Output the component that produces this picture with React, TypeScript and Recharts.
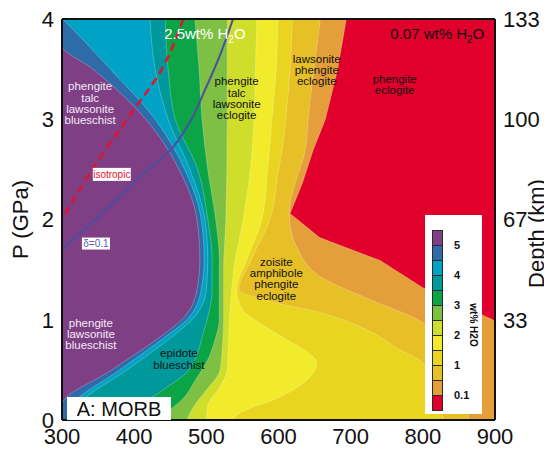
import React from "react";
import {
  ComposedChart,
  Area,
  Line,
  XAxis,
  YAxis,
  CartesianGrid,
  ReferenceDot,
  Legend,
} from "recharts";

type Pt = [number, number]; // [P in GPa, T in °C]

// wt% H2O contour edges, read as T at a given P; the wetter band lies left of each edge
const purpleEdge: Pt[] = [[4, 300], [3.74, 300], [3.5, 343], [3, 416], [2.5, 462], [2, 487], [1.6, 491], [1.3, 487], [1, 466], [0.85, 440], [0.5, 369], [0.15, 300], [0, 300]];
const blueEdge: Pt[] = [[4, 301], [3.74, 336], [3.5, 367], [3, 429], [2.5, 470], [2, 493], [1.6, 497], [1.3, 493], [1, 473], [0.85, 447], [0.5, 380], [0.15, 314], [0, 307]];
const cyanEdge: Pt[] = [[4, 422], [3.5, 429], [3, 447], [2.5, 477], [2, 498], [1.6, 502], [1.3, 500], [1, 480], [0.85, 456], [0.5, 390], [0.15, 322], [0, 312]];
const tealEdge: Pt[] = [[4, 443], [3.5, 447], [3, 457], [2.5, 488], [2, 502], [1.6, 508], [1.3, 508], [1, 501], [0.85, 495], [0.6, 484], [0.5, 476], [0.3, 440], [0.15, 410], [0, 390]];
const greenEdge: Pt[] = [[4, 484], [3.5, 490], [3, 494], [2.5, 502], [2, 513], [1.6, 518], [1.3, 518], [1, 518], [0.8, 512], [0.6, 502], [0.4, 485], [0.2, 466], [0.08, 446], [0, 432]];
const limeEdge: Pt[] = [[4, 529], [3, 529], [2, 527], [1.5, 524], [1, 524], [0.7, 522], [0.5, 519], [0.28, 498], [0.15, 484], [0, 473]];
const yellowGreenEdge: Pt[] = [[4, 570], [3.5, 568], [3, 566], [2.5, 561], [2, 551], [1.5, 538], [1.3, 535], [1, 532], [0.5, 529], [0.3, 516], [0.15, 502], [0, 500]];
const yellowEdge: Pt[] = [[4, 599], [3.5, 597], [3, 591], [2.5, 585], [2, 577], [1.6, 556], [1.3, 542], [1.1, 550], [1, 567], [0.8, 612], [0.63, 648], [0.57, 653], [0.43, 644], [0.23, 602], [0.07, 547], [0, 536]];
const paleGoldEdge: Pt[] = [[4, 619], [3.5, 616], [3, 610], [2.69, 605], [2.5, 600], [2, 588], [1.6, 562], [1.3, 545], [1.18, 590], [1.07, 658], [0.9, 722], [0.7, 768], [0.57, 800], [0.3, 818], [0, 828]];
const goldEdge: Pt[] = [[4, 658], [3.5, 649], [3, 641], [2.69, 637], [2.36, 623], [2.2, 617], [2.06, 615], [1.9, 617], [1.7, 627], [1.43, 658], [1.2, 727], [1, 793], [0.97, 800], [0.7, 831], [0.5, 845], [0, 864]];
const orangeEdge: Pt[] = [[4, 694], [3.5, 682], [3, 665], [2.69, 648], [2.36, 633], [2.2, 624], [2.06, 616], [1.82, 657], [1.59, 741], [1.32, 800], [1, 897], [0.97, 900], [0, 900]];

// geotherm-like reference curves
const isotropicLine: Pt[] = [[2, 300], [2.51, 343], [3.04, 394], [3.47, 436], [4, 468]];
const deltaLine: Pt[] = [[1.7, 300], [1.98, 343], [2.23, 380], [2.47, 415], [2.69, 450], [2.97, 477], [3.29, 498], [3.64, 519], [4, 537]];

const tempTicks = [300, 400, 500, 600, 700, 800, 900];
const innerTempTicks = [400, 500, 600, 700, 800];
const pressureTicks = [0, 1, 2, 3, 4];
const depthTickPressures = [1, 2, 3, 4];
const sideTicks = [0.56, 1.12, 1.69, 2.26, 2.83, 3.42];
const kmPerGPa = 100 / 3;

const legendColors = ["#7E3F84", "#2E6CA9", "#00A3C5", "#00999B", "#0BA547", "#7DC043", "#CFDD2B", "#F2EB2C", "#E9D420", "#E7C028", "#E49F3A", "#E0002B"];
const legendValues = ["5", "4", "3", "2", "1", "0.1"];
const legendSlots = [1, 3, 5, 7, 9, 11];

const FONT = "'Liberation Sans', Arial, sans-serif";

// drawn back to front: each band covers from 300 °C up to its edge
const bands: { key: string; edge: Pt[]; color: string; curve: "monotone" | "linear" }[] = [
  { key: "orange", edge: orangeEdge, color: legendColors[10], curve: "linear" },
  { key: "gold", edge: goldEdge, color: legendColors[9], curve: "monotone" },
  { key: "paleGold", edge: paleGoldEdge, color: legendColors[8], curve: "monotone" },
  { key: "yellow", edge: yellowEdge, color: legendColors[7], curve: "monotone" },
  { key: "yellowGreen", edge: yellowGreenEdge, color: legendColors[6], curve: "monotone" },
  { key: "lime", edge: limeEdge, color: legendColors[5], curve: "monotone" },
  { key: "green", edge: greenEdge, color: legendColors[4], curve: "monotone" },
  { key: "teal", edge: tealEdge, color: legendColors[3], curve: "monotone" },
  { key: "cyan", edge: cyanEdge, color: legendColors[2], curve: "monotone" },
  { key: "blue", edge: blueEdge, color: legendColors[1], curve: "monotone" },
  { key: "purple", edge: purpleEdge, color: legendColors[0], curve: "monotone" },
];

const rowMap = new Map<number, Record<string, number>>();
[...bands.map((b) => ({ key: b.key, pts: b.edge })), { key: "iso", pts: isotropicLine }, { key: "delta", pts: deltaLine }].forEach(
  ({ key, pts }) =>
    pts.forEach(([p, t]) => {
      const row = rowMap.get(p) ?? { p };
      row[key] = t;
      rowMap.set(p, row);
    })
);
const data = [...rowMap.values()].sort((a, b) => b.p - a.p);

const phaseLabels = [
  { lines: ["phengite", "talc", "lawsonite", "blueschist"], t: 339, p: 3.16, color: "#F3EAF6" },
  { lines: ["phengite", "talc", "lawsonite", "eclogite"], t: 542, p: 3.21, color: "#111" },
  { lines: ["lawsonite", "phengite", "eclogite"], t: 653, p: 3.49, color: "#111" },
  { lines: ["phengite", "eclogite"], t: 761, p: 3.35, color: "#111" },
  { lines: ["zoisite", "amphibole", "phengite", "eclogite"], t: 597, p: 1.41, color: "#111" },
  { lines: ["epidote", "blueschist"], t: 462, p: 0.61, color: "#111" },
  { lines: ["phengite", "lawsonite", "blueschist"], t: 340, p: 0.86, color: "#F3EAF6" },
];

const textBlock = (lines: string[], color: string) => (props: any) => {
  const { cx, cy } = props;
  const lh = 11.3;
  const top = cy - ((lines.length - 1) * lh) / 2;
  return (
    <text textAnchor="middle" fontSize={11.5} fill={color} fontFamily={FONT}>
      {lines.map((l, i) => (
        <tspan key={i} x={cx} y={top + i * lh} dy="0.35em">
          {l}
        </tspan>
      ))}
    </text>
  );
};

const waterNote = (lead: string, color: string) => (props: any) => (
  <text x={props.cx} y={props.cy} dy="0.35em" textAnchor="middle" fontSize={15} fill={color} fontFamily={FONT}>
    <tspan>{lead}H</tspan>
    <tspan fontSize={10} dy={4}>2</tspan>
    <tspan dy={-4}>O</tspan>
  </text>
);

const boxedText = (text: string, color: string, w: number, h: number, size: number) => (props: any) => {
  const { cx, cy } = props;
  return (
    <g>
      <rect x={cx - w / 2} y={cy - h / 2} width={w} height={h} fill="#fff" />
      <text x={cx} y={cy} dy="0.36em" textAnchor="middle" fontSize={size} fill={color} fontFamily={FONT}>
        {text}
      </text>
    </g>
  );
};

const AxisTitle = ({ viewBox, text, side }: any) => {
  const { x, y, width, height } = viewBox;
  const cx = side === "left" ? x + 12 : x + width - 16;
  const cy = y + height / 2 + (side === "left" ? 0 : 14);
  return (
    <text x={cx} y={cy} transform={`rotate(-90 ${cx} ${cy})`} textAnchor="middle" dominantBaseline="central" fontSize={22} fill="#111" fontFamily={FONT}>
      {text}
    </text>
  );
};

const H2OKey = () => (
  <div style={{ position: "relative", width: 57, height: 199, background: "#fff", fontFamily: FONT }}>
    {legendColors.map((c, i) => (
      <div
        key={c}
        style={{ position: "absolute", left: 7, top: 15 + i * 15, width: 11, height: 16, background: c, border: "1px solid #2a2a2a", boxSizing: "border-box" }}
      />
    ))}
    {legendValues.map((v, i) => (
      <span key={v} style={{ position: "absolute", left: 29, top: 15 + legendSlots[i] * 15 - 7, fontSize: 11, fontWeight: "bold", lineHeight: "14px", color: "#111" }}>
        {v}
      </span>
    ))}
    <span
      style={{ position: "absolute", left: 48, top: 110, transform: "translate(-50%, -50%) rotate(90deg)", whiteSpace: "nowrap", fontSize: 10, fontWeight: "bold", color: "#111" }}
    >
      wt% H2O
    </span>
  </div>
);

const axisStroke = { stroke: "#111", strokeWidth: 2 };
const tickFont = { fontSize: 22, fill: "#111", fontFamily: FONT };
const innerTick = { stroke: "#111", strokeWidth: 1.5 };

export default function App() {
  return (
    <ComposedChart width={544} height={443} data={data} layout="vertical" margin={{ top: 11, right: 0, bottom: 0, left: 0 }}>
      <CartesianGrid horizontal={false} vertical={false} fill={legendColors[11]} fillOpacity={1} />
      <XAxis type="number" domain={[300, 900]} allowDataOverflow ticks={tempTicks} interval={0} height={31} tickLine={false} axisLine={axisStroke} tick={tickFont} />
      <XAxis xAxisId="top" orientation="top" mirror type="number" domain={[300, 900]} allowDataOverflow ticks={innerTempTicks} tick={false} tickSize={5} axisLine={axisStroke} tickLine={innerTick} />
      <XAxis xAxisId="bottomTicks" orientation="bottom" mirror type="number" domain={[300, 900]} allowDataOverflow ticks={innerTempTicks} tick={false} tickSize={5} axisLine={false} tickLine={innerTick} />
      <YAxis
        type="number"
        dataKey="p"
        domain={[0, 4]}
        reversed
        allowDataOverflow
        ticks={pressureTicks}
        interval={0}
        width={54}
        tickLine={false}
        axisLine={axisStroke}
        tick={tickFont}
        label={<AxisTitle text="P (GPa)" side="left" />}
      />
      <YAxis yAxisId="leftTicks" dataKey="p" type="number" domain={[0, 4]} reversed allowDataOverflow ticks={sideTicks} interval={0} mirror tick={false} tickSize={5} axisLine={false} tickLine={innerTick} />
      <YAxis
        yAxisId="depth"
        dataKey="p"
        orientation="right"
        type="number"
        domain={[0, 4]}
        reversed
        allowDataOverflow
        ticks={depthTickPressures}
        tickFormatter={(p: number) => String(Math.round(p * kmPerGPa))}
        interval={0}
        width={57}
        tickLine={false}
        axisLine={axisStroke}
        tick={tickFont}
        label={<AxisTitle text="Depth (km)" side="right" />}
      />
      <YAxis yAxisId="rightTicks" dataKey="p" orientation="right" type="number" domain={[0, 4]} reversed allowDataOverflow ticks={sideTicks} interval={0} mirror tick={false} tickSize={5} axisLine={false} tickLine={innerTick} />

      {bands.map((b) => (
        <Area
          key={b.key}
          dataKey={b.key}
          type={b.curve}
          fill={b.color}
          fillOpacity={1}
          stroke="#ffffff"
          strokeOpacity={0.35}
          strokeWidth={0.7}
          connectNulls
          dot={false}
          activeDot={false}
          isAnimationActive={false}
        />
      ))}

      <Line dataKey="iso" type="monotone" stroke="#E3122F" strokeWidth={2.5} strokeDasharray="8 5" dot={false} activeDot={false} connectNulls isAnimationActive={false} />
      <Line dataKey="delta" type="monotone" stroke="#4B4EA2" strokeWidth={2} dot={false} activeDot={false} connectNulls isAnimationActive={false} />

      {phaseLabels.map((l) => (
        <ReferenceDot key={l.lines.join("-")} x={l.t} y={l.p} r={0} ifOverflow="visible" shape={textBlock(l.lines, l.color)} />
      ))}
      <ReferenceDot x={498} y={3.85} r={0} ifOverflow="visible" shape={waterNote("2.5wt% ", "#fff")} />
      <ReferenceDot x={820} y={3.85} r={0} ifOverflow="visible" shape={waterNote("0.07 wt% ", "#111")} />
      <ReferenceDot x={369} y={2.45} r={0} ifOverflow="visible" shape={boxedText("isotropic", "#E3122F", 38, 13, 10)} />
      <ReferenceDot x={347} y={1.76} r={0} ifOverflow="visible" shape={boxedText("δ=0.1", "#5A5DB0", 28, 12, 10)} />
      <ReferenceDot x={379} y={0.115} r={0} ifOverflow="visible" shape={boxedText("A: MORB", "#111", 104, 23, 20)} />

      <Legend layout="horizontal" verticalAlign="middle" align="center" wrapperStyle={{ left: 417, top: 207, width: 57, height: 199 }} content={() => <H2OKey />} />
    </ComposedChart>
  );
}
